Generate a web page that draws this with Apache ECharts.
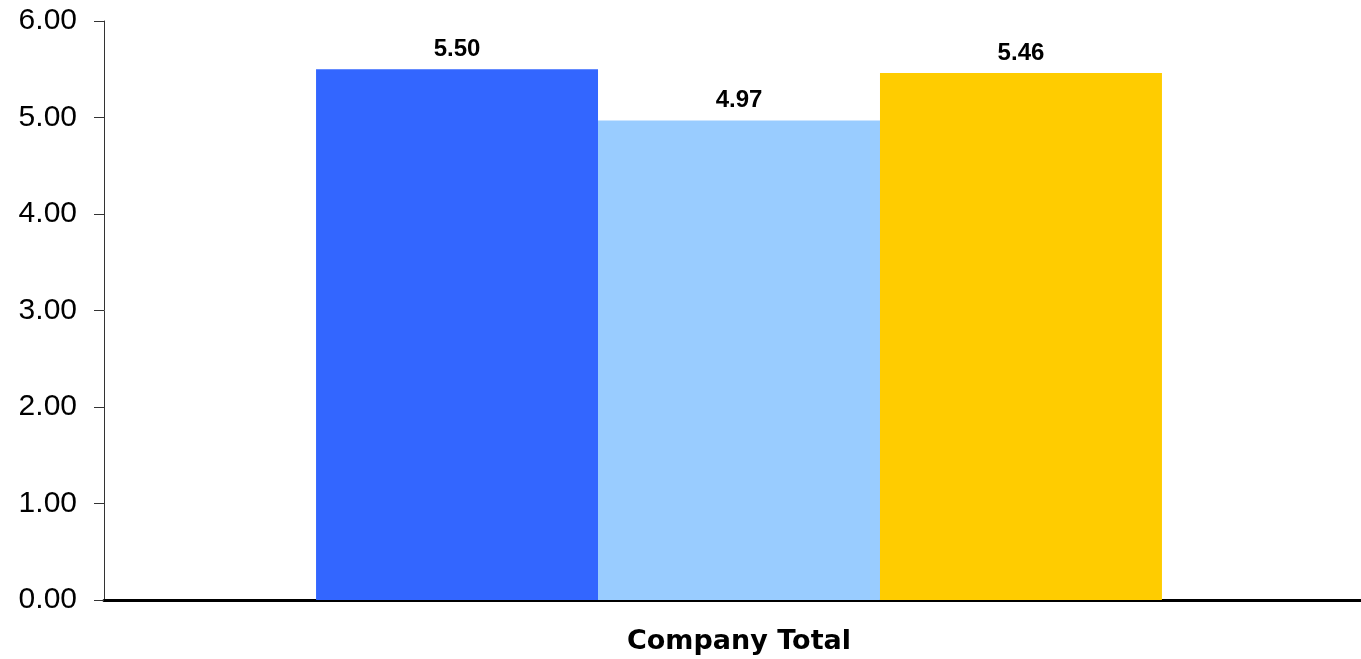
<!DOCTYPE html>
<html>
<head>
<meta charset="utf-8">
<script src="https://cdn.jsdelivr.net/npm/echarts@6/dist/echarts.min.js"></script>
<style>
html,body{margin:0;padding:0;background:#fff;}
#chart{width:1361px;height:659px;}
</style>
</head>
<body>
<div id="chart"></div>
<script>
const categories = ['Company Total'];
const seriesNames = ['Series 1', 'Series 2', 'Series 3'];
const series1 = [5.50];
const series2 = [4.97];
const series3 = [5.46];
const seriesColors = ['#3366FF', '#99CCFF', '#FFCC00'];
const yTicks = { min: 0, max: 6, interval: 1 };

const chart = echarts.init(document.getElementById('chart'));
const dataSets = [series1, series2, series3];
chart.setOption({
  animation: false,
  backgroundColor: '#ffffff',
  grid: [
    { left: 117, top: 21, bottom: 59, right: 0, containLabel: false },
    { left: 104, top: 21, bottom: 59, right: 0, containLabel: false }
  ],
  xAxis: [
    {
      type: 'category',
      gridIndex: 0,
      data: categories,
      axisLine: { show: false },
      axisTick: { show: false },
      axisLabel: { margin: 28, fontFamily: 'DejaVu Sans', fontWeight: 'bold', fontSize: 27, color: '#000' }
    },
    {
      type: 'category',
      gridIndex: 1,
      data: categories,
      axisLine: { show: true, lineStyle: { color: '#000', width: 3 } },
      axisTick: { show: false },
      axisLabel: { show: false }
    }
  ],
  yAxis: [
    {
      type: 'value',
      gridIndex: 0,
      offset: 13,
      min: yTicks.min, max: yTicks.max, interval: yTicks.interval,
      axisLine: { show: true, lineStyle: { color: '#333', width: 1 } },
      axisTick: { show: true, inside: false, length: 10, lineStyle: { color: '#333' } },
      splitLine: { show: false },
      axisLabel: { margin: 27, fontFamily: 'Liberation Sans', fontSize: 30, color: '#000',
        padding: [4, 0, 0, 0],
        formatter: v => v.toFixed(2) }
    },
    {
      type: 'value',
      gridIndex: 1,
      min: yTicks.min, max: yTicks.max, interval: yTicks.interval,
      show: false,
      splitLine: { show: false }
    }
  ],
  series: dataSets.map((d, i) => ({
    name: seriesNames[i],
    type: 'bar',
    xAxisIndex: 0,
    yAxisIndex: 0,
    data: d,
    barGap: '0%',
    barCategoryGap: '32%',
    itemStyle: { color: seriesColors[i] },
    label: { show: true, position: 'top', distance: 8, fontFamily: 'Liberation Sans', fontWeight: 'bold',
      fontSize: 24, color: '#000', formatter: p => p.value.toFixed(2) }
  }))
});
</script>
</body>
</html>
